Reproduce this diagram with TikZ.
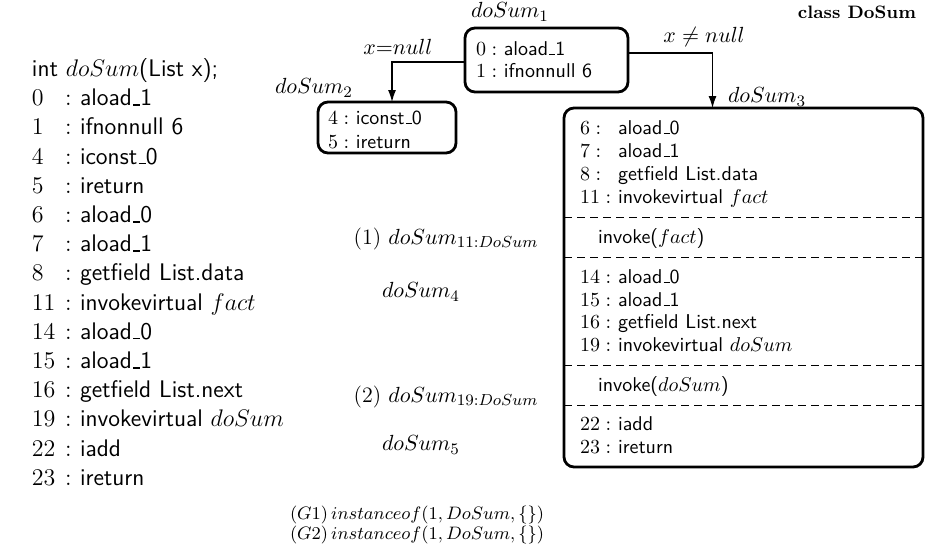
\documentclass[tikz,border=0pt]{standalone}
\usetikzlibrary{arrows.meta,calc}
\newcommand\usc{\leavevmode\kern.06em\vbox{\hrule width.3em height .7pt}}
\begin{document}
\begin{tikzpicture}[x=0.5pt,y=-0.5pt,
  every node/.style={inner sep=0pt, outer sep=0pt, font=\sffamily},
  ln/.style={anchor=base west},
  big/.style={anchor=base west, font=\sffamily\fontsize{12}{14}\selectfont},
  box/.style={draw, line width=1.4pt, rounded corners=5pt},
  arr/.style={line width=0.6pt, -{Latex[length=6pt,width=4pt]}},
  sep/.style={line width=0.5pt, dash pattern=on 4pt off 2.5pt},
  lab/.style={font=\fontsize{10.8}{13}\selectfont},
  mid/.style={font=\fontsize{11}{13}\selectfont},
  bot/.style={anchor=base west, font=\fontsize{9.5}{11}\selectfont}
]
\useasboundingbox (0,0) rectangle (929,554);

% ---- left listing ----
\node[big] (lhead) at (32,76.7) {int $doSum$(List x);};
\foreach \n/\t [count=\i from 0] in {0/aload\usc 1, 1/ifnonnull 6, 4/iconst\usc 0, 5/ireturn, 6/aload\usc 0, 7/aload\usc 1, 8/getfield List.data, 11/invokevirtual $fact$, 14/aload\usc 0, 15/aload\usc 1, 16/getfield List.next, 19/invokevirtual $doSum$, 22/iadd, 23/ireturn}{
  \node[big] (ln\i) at (32,105.7+29.2*\i) {$\n$};
  \node[big] (lc\i) at (65,105.7+29.2*\i) {$:$};
  \node[big] (li\i) at (80,105.7+29.2*\i) {\t};
}

% ---- boxes ----
\node[box, minimum width=81.5pt, minimum height=32pt] (b1) at (546.5,60) {};
\node[box, minimum width=69pt, minimum height=25.5pt] (b2) at (387,127.5) {};
\node[box, minimum width=179.5pt, minimum height=179.5pt] (b3) at (743.5,287.5) {};

% labels
\node[lab] (l1) at (510,12) {$doSum_1$};
\node[lab] (l2) at (314,88) {$doSum_2$};
\node[lab] (l3) at (767,97) {$doSum_3$};
\node[font=\bfseries\rmfamily\fontsize{9}{11}\selectfont, anchor=east] (cls) at (916,12) {class DoSum};

% box1 text
\node[ln] (b1a) at (476,55.4) {$0:$ aload\usc 1};
\node[ln] (b1b) at (476,77.4) {$1:$ ifnonnull 6};
% box2 text
\node[ln] (b2a) at (328,124.4) {$4:$ iconst\usc 0};
\node[ln] (b2b) at (328,148.4) {$5:$ ireturn};

% box3 text
\foreach \n/\t/\y in {6/aload\usc 0/128, 7/aload\usc 1/151, 8/getfield List.data/174, 11/invokevirtual $fact$/197, 14/aload\usc 0/277, 15/aload\usc 1/300, 16/getfield List.next/322, 19/invokevirtual $doSum$/345, 22/iadd/424, 23/ireturn/447}{
  \node[ln] (n\n) at (580,\y+6.4) {$\n:$};
  \node[ln] (i\n) at (618,\y+6.4) {\t};
}
\node[ln] (inv1) at (598,237+6.4) {invoke($fact$)};
\node[ln] (inv2) at (598,385+6.4) {invoke($doSum$)};

\foreach \y in {217,257,365,405}{
  \draw[sep] (b3.west |- 0,\y) -- (b3.east |- 0,\y);
}

% connectors
\draw[arr] ([yshift=-1pt]b1.west) -| node[pos=0.46, above=4pt, lab]{$x{=}null$} ([xshift=2.5pt]b2.north);
\draw[arr] ([yshift=3.5pt]b1.east) -| node[pos=0.45, above=3pt, lab]{$x \neq null$} ($(b3.north)+(-31,0)$);

% middle labels
\node[mid] (m1) at (446,239) {(1) $doSum_{11:DoSum}$};
\node[mid] (m2) at (421,292) {$doSum_4$};
\node[mid] (m3) at (446,397) {(2) $doSum_{19:DoSum}$};
\node[mid] (m4) at (421,445) {$doSum_5$};

% bottom
\node[bot] (g1) at (290,519) {$(G1)\,instanceof(1, DoSum, \{\})$};
\node[bot] (g2) at (290,539) {$(G2)\,instanceof(1, DoSum, \{\})$};
\end{tikzpicture}
\end{document}
